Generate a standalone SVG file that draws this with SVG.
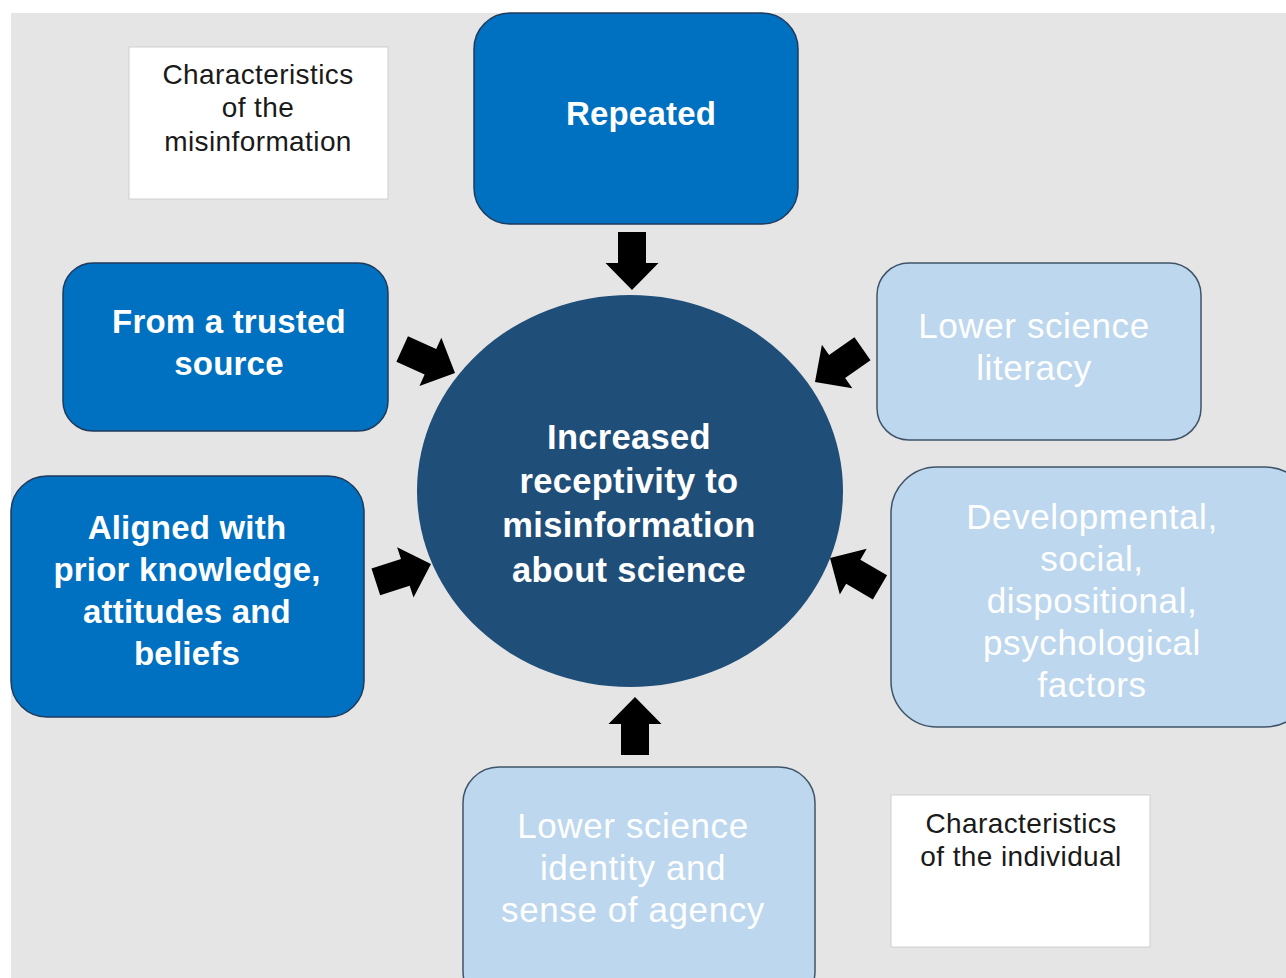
<svg xmlns="http://www.w3.org/2000/svg" width="1286" height="978" viewBox="0 0 1286 978">
  <defs>
    <style>
      .dark { fill: #0070c0; stroke: #1f3a5c; stroke-width: 1.5; }
      .light { fill: #bdd7ee; stroke: #3f5468; stroke-width: 1.5; }
      .note { fill: #ffffff; stroke: #cfcfcf; stroke-width: 1; }
      .t-dark { font-family: "Liberation Sans", Arial, sans-serif; font-size: 33px; font-weight: bold; fill: #ffffff; text-anchor: middle; letter-spacing: 0.2px; }
      .t-light { font-family: "Liberation Sans", Arial, sans-serif; font-size: 35px; fill: #ffffff; text-anchor: middle; letter-spacing: 0.6px; }
      .t-center { font-family: "Liberation Sans", Arial, sans-serif; font-size: 34.5px; font-weight: bold; fill: #ffffff; text-anchor: middle; letter-spacing: 0.3px; }
      .t-note { font-family: "Liberation Sans", Arial, sans-serif; font-size: 28px; fill: #1a1a1a; text-anchor: middle; letter-spacing: 0.4px; }
      .arrow { fill: #000000; }
    </style>
    <!-- block arrow pointing along +x, tip at the origin -->
    <path id="blockArrow" d="M -58,-14 L -27,-14 L -27,-26.5 L 0,0 L -27,26.5 L -27,14 L -58,14 Z"/>
  </defs>

  <!-- canvas -->
  <rect x="0" y="0" width="1286" height="978" fill="#ffffff"/>
  <rect x="11" y="13" width="1275" height="965" fill="#e5e5e5"/>

  <!-- central outcome -->
  <g id="node-center">
    <ellipse cx="630" cy="491" rx="213" ry="196" fill="#1f4e79"/>
    <text class="t-center" x="629" y="449">Increased</text>
    <text class="t-center" x="629" y="493">receptivity to</text>
    <text class="t-center" x="629" y="537">misinformation</text>
    <text class="t-center" x="629" y="582">about science</text>
  </g>

  <g id="node-repeated">
    <rect class="dark" x="474" y="13" width="324" height="211" rx="36" ry="36"/>
    <text class="t-dark" x="641" y="125">Repeated</text>
  </g>

  <g id="node-trusted">
    <rect class="dark" x="63" y="263" width="325" height="168" rx="30" ry="30"/>
    <text class="t-dark" x="229" y="333">From a trusted</text>
    <text class="t-dark" x="229" y="375">source</text>
  </g>

  <g id="node-aligned">
    <rect class="dark" x="11" y="476" width="353" height="241" rx="36" ry="36"/>
    <text class="t-dark" x="187" y="539">Aligned with</text>
    <text class="t-dark" x="187" y="581">prior knowledge,</text>
    <text class="t-dark" x="187" y="623">attitudes and</text>
    <text class="t-dark" x="187" y="665">beliefs</text>
  </g>

  <g id="node-literacy">
    <rect class="light" x="877" y="263" width="324" height="177" rx="32" ry="32"/>
    <text class="t-light" x="1034" y="338">Lower science</text>
    <text class="t-light" x="1034" y="380">literacy</text>
  </g>

  <g id="node-factors">
    <rect class="light" x="891" y="467" width="420" height="260" rx="46" ry="46"/>
    <text class="t-light" x="1092" y="529">Developmental,</text>
    <text class="t-light" x="1092" y="571">social,</text>
    <text class="t-light" x="1092" y="613">dispositional,</text>
    <text class="t-light" x="1092" y="655">psychological</text>
    <text class="t-light" x="1092" y="697">factors</text>
  </g>

  <g id="node-identity">
    <rect class="light" x="463" y="767" width="352" height="240" rx="36" ry="36"/>
    <text class="t-light" x="633" y="838">Lower science</text>
    <text class="t-light" x="633" y="880">identity and</text>
    <text class="t-light" x="633" y="922">sense of agency</text>
  </g>

  <g id="label-misinformation">
    <rect class="note" x="129" y="47" width="259" height="152"/>
    <text class="t-note" x="258" y="84">Characteristics</text>
    <text class="t-note" x="258" y="117">of the</text>
    <text class="t-note" x="258" y="151">misinformation</text>
  </g>

  <g id="label-individual">
    <rect class="note" x="891" y="795" width="259" height="152"/>
    <text class="t-note" x="1021" y="833">Characteristics</text>
    <text class="t-note" x="1021" y="866">of the individual</text>
  </g>

  <!-- block arrows feeding the central outcome -->
  <g id="connectors" class="arrow">
    <use href="#blockArrow" transform="translate(632,290) rotate(90)"/>
    <use href="#blockArrow" transform="translate(635,697) rotate(-90)"/>
    <use href="#blockArrow" transform="translate(455,373) rotate(24.4)"/>
    <use href="#blockArrow" transform="translate(815,382) rotate(145)"/>
    <use href="#blockArrow" transform="translate(431,564) rotate(-18)"/>
    <use href="#blockArrow" transform="translate(830,558) rotate(210.5)"/>
  </g>
</svg>
